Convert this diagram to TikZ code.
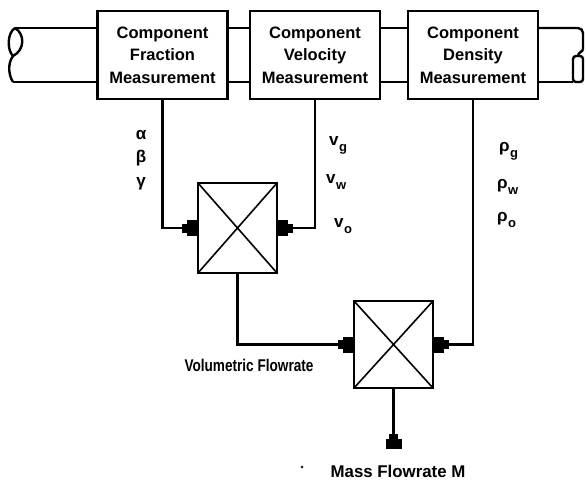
\documentclass[tikz,border=0pt]{standalone}
\usepackage{fontspec}
\setmainfont{Liberation Sans}
\usetikzlibrary{arrows.meta,calc}
\tikzset{
  mbox/.style={draw, line width=2.4pt, minimum width=130pt, minimum height=88pt, align=center, inner sep=0pt,
    font=\bfseries\fontsize{16.5}{22.5}\selectfont},
  mult/.style={draw, line width=2.4pt, minimum width=79pt, inner sep=0pt,
    path picture={\draw[line width=1.6pt] (path picture bounding box.north west) -- (path picture bounding box.south east)
      (path picture bounding box.north east) -- (path picture bounding box.south west);}},
  conn/.style={line width=2.4pt},
  arr/.style={conn, -{Rectangle[length=5pt,width=9pt] Rectangle[length=10pt,width=16pt]}},
  pipe/.style={line width=2.4pt},
  lbl/.style={inner sep=0pt, font=\bfseries\fontsize{17}{17}\selectfont},
  flow/.style={inner sep=0pt, font=\bfseries\fontsize{17}{17}\selectfont}
}
\newcommand{\sub}[1]{\kern0.5pt\raisebox{-6pt}{\fontsize{13}{13}\selectfont #1}}
\begin{document}
\begin{tikzpicture}[x=1pt,y=-1pt]
\useasboundingbox (0,0) rectangle (586,482);
% measurement boxes
\node[mbox] (frac) at (162.5,55) {Component\\Fraction\\Measurement};
\node[mbox] (vel) at (315,55) {Component\\Velocity\\Measurement};
\node[mbox] (dens) at (473,55) {Component\\Density\\Measurement};
% multipliers
\node[mult, minimum height=90pt] (m1) at (237.5,228) {};
\node[mult, minimum height=87pt] (m2) at (393.5,344.5) {};
% pipe
\coordinate (lt) at (15,28);
\coordinate (lb) at (13,82);
\coordinate (brk) at (13,56);
\draw[pipe] (lt) .. controls (7,33) and (7,50) .. (brk)
            (lt) .. controls (25,34) and (25,50) .. (brk)
            (brk) .. controls (7,64) and (9,76) .. (lb);
\draw[pipe] (lt) -- (lt -| frac.west);
\draw[pipe] (lb) -- (lb -| frac.west);
\draw[pipe] (lt -| frac.east) -- (lt -| vel.west);
\draw[pipe] (lb -| frac.east) -- (lb -| vel.west);
\draw[pipe] (lt -| vel.east) -- (lt -| dens.west);
\draw[pipe] (lb -| vel.east) -- (lb -| dens.west);
\coordinate (rc) at (583,28);
\coordinate (rn) at (583,49);
\draw[pipe, rounded corners=5pt] (lt -| dens.east) -- (rc) -- (rn);
\draw[pipe] (rn) .. controls (583,52) and (578,52) .. (578,56);
\draw[pipe, rounded corners=3pt] (573,56) rectangle (583,82);
\draw[pipe] (lb -| dens.east) -- (573,82);
% connectors
\draw[arr] (frac.south) |- (m1.west);
\draw[arr] (vel.south) |- (m1.east);
\draw[arr] (m1.south) |- (m2.west);
\draw[arr] (dens.south) |- (m2.east);
\coordinate (out) at (393.5,449);
\draw[arr] (m2.south) -- (out);
% labels
\node[lbl, anchor=base] (la) at (141,139) {α};
\node[lbl, anchor=base] (lb2) at (141,162) {β};
\node[lbl, anchor=base] (lc) at (141,186) {γ};
\node[lbl, anchor=base west] (vg) at (329,145) {v\sub{g}};
\node[lbl, anchor=base west] (vw) at (326,183) {v\sub{w}};
\node[lbl, anchor=base west] (vo) at (334,227) {v\sub{o}};
\node[lbl, anchor=base west] (rg) at (499,151) {ρ\sub{g}};
\node[lbl, anchor=base west] (rw) at (497,188) {ρ\sub{w}};
\node[lbl, anchor=base west] (ro) at (497,221) {ρ\sub{o}};
\node[flow] (vf) at (249,365) {\scalebox{0.80}[1]{Volumetric Flowrate}};
\node[flow] (mf) at (398,471) {\scalebox{0.99}[1]{Mass Flowrate M}};
\fill (302,467) circle (1.3pt);
\end{tikzpicture}
\end{document}
